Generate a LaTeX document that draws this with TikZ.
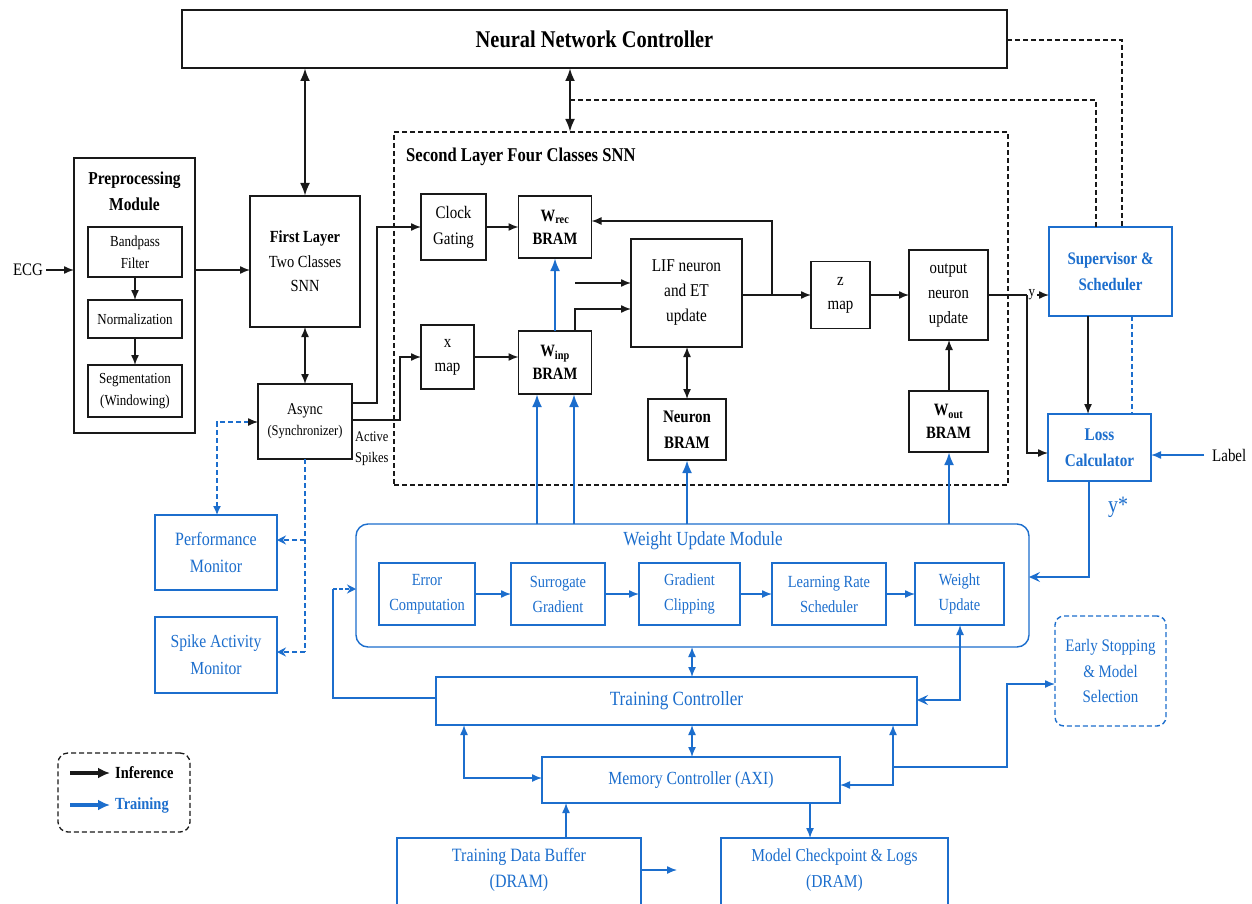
\documentclass[tikz,border=0pt]{standalone}
\usepackage{fontspec}
\setmainfont{Liberation Serif}[FakeStretch=0.85]
\usetikzlibrary{arrows.meta,calc}
\definecolor{tblue}{RGB}{28,110,205}
\definecolor{tblack}{RGB}{25,25,25}
\begin{document}
\begin{tikzpicture}[x=1pt,y=-1pt,
 box/.style={draw=tblack,line width=1.4pt,inner sep=0pt,outer sep=0pt,align=center,text=black},
 bbox/.style={draw=tblue,line width=1.4pt,inner sep=0pt,outer sep=0pt,align=center,text=tblue},
 arr/.style={-{Latex[length=10pt,width=8pt]},line width=1.4pt,draw=tblack},
 darr/.style={{Latex[length=10pt,width=8pt]}-{Latex[length=10pt,width=8pt]},line width=1.4pt,draw=tblack},
 thk/.style={{Latex[length=13pt,width=10pt]}-{Latex[length=13pt,width=10pt]},line width=2.6pt,draw=tblack},
 barr/.style={-{Latex[length=10pt,width=8pt]},line width=1.4pt,draw=tblue},
 bdarr/.style={{Latex[length=10pt,width=8pt]}-{Latex[length=10pt,width=8pt]},line width=1.4pt,draw=tblue},
 bthk/.style={-{Latex[length=13pt,width=10pt]},line width=2.6pt,draw=tblue},
 bst/.style={-{Stealth[length=11pt,width=10pt,inset=4pt]},line width=1.4pt,draw=tblue},
 dsh/.style={dash pattern=on 5pt off 3pt},
 sub/.style={font=\fontsize{15.3}{22}\selectfont},
]
\useasboundingbox (0,0) rectangle (1252,904);
\fill[white] (0,0) rectangle (1252,904);

% ---------- top controller ----------
\node[box,line width=1.8pt,minimum width=825pt,minimum height=58pt,font=\fontsize{24}{26}\selectfont\bfseries] (nnc) at (594.5,39) {Neural Network Controller};

% ---------- preprocessing ----------
\node[box,line width=1.8pt,minimum width=121pt,minimum height=275pt] (pre) at (134.5,295.5) {};
\node[align=center,font=\fontsize{18.2}{26}\selectfont\bfseries] (pretitle) at (134.5,191) {Preprocessing\\Module};
\node[box,sub,minimum width=94pt,minimum height=50pt] (band) at (135,252) {Bandpass\\Filter};
\node[box,sub,minimum width=94pt,minimum height=38pt] (norm) at (135,319) {Normalization};
\node[box,sub,minimum width=94pt,minimum height=52pt] (seg) at (135,391) {Segmentation\\(Windowing)};
\draw[arr] (band) -- (norm);
\draw[arr] (norm) -- (seg);
\node[font=\fontsize{17.6}{20}\selectfont] (ecg) at (28,270) {ECG};
\draw[arr] (ecg.east) -- (pre.west |- ecg.east);

% ---------- first layer / async ----------
\node[box,line width=1.8pt,font=\fontsize{17}{24.5}\selectfont,minimum width=110pt,minimum height=131pt] (fl) at (305,261.5) {\textbf{First Layer}\\Two Classes\\SNN};
\node[box,minimum width=94pt,minimum height=75pt,font=\fontsize{16.5}{21}\selectfont] (async) at (305,421.5) {Async\\{\fontsize{14.7}{18}\selectfont(Synchronizer)}};
\draw[arr] (pre.east |- ecg.east) -- (fl.west |- ecg.east);
\draw[thk] (nnc.south -| fl.north) -- (fl.north);
\draw[darr] (fl.south -| async.north) -- (async.north);
\node[align=left,anchor=west,inner sep=0pt,font=\fontsize{14.7}{21}\selectfont] (act) at (355,449) {Active\\Spikes};

% ---------- second layer ----------
\node[draw=tblack,line width=1.3pt,dsh,inner sep=0pt,outer sep=0pt,minimum width=614pt,minimum height=353pt] (sl) at (701,308.5) {};
\node[anchor=west,inner sep=0pt,font=\fontsize{19.5}{22}\selectfont\bfseries] (sltitle) at (406,157) {Second Layer Four Classes SNN};
\coordinate (c570) at (570,0);
\draw[thk] (nnc.south -| c570) -- (sl.north -| c570);

\node[box,minimum width=65pt,minimum height=66pt,font=\fontsize{17.6}{26}\selectfont] (clock) at (453.5,227) {Clock\\Gating};
\node[box,minimum width=73pt,minimum height=62pt,font=\fontsize{17.3}{23}\selectfont\bfseries] (wrec) at (555,227) {W\textsubscript{rec}\\BRAM};
\node[box,minimum width=53pt,minimum height=64pt,font=\fontsize{17.6}{24}\selectfont] (xmap) at (447.5,357) {x\\map};
\node[box,minimum width=73pt,minimum height=63pt,font=\fontsize{17.3}{23}\selectfont\bfseries] (winp) at (555,362.5) {W\textsubscript{inp}\\BRAM};
\node[box,minimum width=111pt,minimum height=108pt,font=\fontsize{18}{25}\selectfont] (lif) at (686.5,293) {LIF neuron\\and ET\\update};
\node[box,minimum width=78pt,minimum height=61pt,font=\fontsize{17.6}{26}\selectfont\bfseries] (nbram) at (687,429.5) {Neuron\\BRAM};
\node[box,minimum width=59pt,minimum height=67pt,font=\fontsize{17.6}{24}\selectfont] (zmap) at (840.5,295) {z\\map};
\node[box,minimum width=79pt,minimum height=90pt,font=\fontsize{17.3}{25}\selectfont] (outn) at (948.5,295) {output\\neuron\\update};
\node[box,minimum width=79pt,minimum height=61pt,font=\fontsize{17.3}{23}\selectfont\bfseries] (wout) at (948.5,421.5) {W\textsubscript{out}\\BRAM};

\draw[arr] (async.east |- 0,403) -- (377,403) |- (clock.west);
\draw[arr] (async.east |- 0,420) -- (400,420) |- (xmap.west);
\draw[arr] (clock.east) -- (wrec.west);
\draw[arr] (xmap.east) -- (winp.west |- xmap.east);
\coordinate (fin) at (575,283);
\draw[arr] (fin) -- (lif.west |- fin);
\draw[arr] (winp.north -| 575,0) |- (lif.west |- 0,309);
\draw[arr] (lif.east |- zmap.west) -- (zmap.west);
\draw[arr] (772,295) |- (wrec.east |- 0,221);
\draw[darr] (lif.south -| nbram.north) -- (nbram.north);
\draw[arr] (zmap.east) -- (outn.west);
\draw[arr] (wout.north -| 949,0) -- (outn.south -| 949,0);

% ---------- supervisor / loss ----------
\node[bbox,minimum width=123pt,minimum height=89pt,font=\fontsize{17.6}{26}\selectfont\bfseries] (sup) at (1110.5,271.5) {Supervisor \&\\Scheduler};
\node[bbox,minimum width=103pt,minimum height=67pt,font=\fontsize{17.9}{26}\selectfont\bfseries] (loss) at (1099.5,447.5) {Loss\\Calculator};
\draw[arr] (outn.east) -- (sup.west |- outn.east) node[pos=0.72,fill=white,inner sep=1.5pt,font=\fontsize{15.3}{17}\selectfont] {y};
\draw[arr] (1027,295) |- (loss.west |- 0,453);
\draw[arr] (sup.south -| 1088,0) -- (loss.north -| 1088,0);
\draw[tblue,dsh,line width=1.3pt] (sup.south -| 1132,0) -- (loss.north -| 1132,0);
\draw[dsh,line width=1.2pt,draw=tblack] (nnc.east |- 0,40) -| (sup.north -| 1122,0);
\draw[dsh,line width=1.2pt,draw=tblack] (c570 |- 0,100) -| (sup.north -| 1096,0);
\node[anchor=west,inner sep=0pt,font=\fontsize{17.6}{20}\selectfont] (lab) at (1212,455) {Label};
\draw[barr] ([xshift=-8pt]lab.west) -- (loss.east |- lab.west);
\node[text=tblue,font=\fontsize{23.5}{26}\selectfont] (ystar) at (1118,507) {y*};

% ---------- weight update module ----------
\node[draw=tblue,line width=1.4pt,rounded corners=12pt,inner sep=0pt,outer sep=0pt,minimum width=673pt,minimum height=123pt] (wum) at (692.5,585.5) {};
\node[text=tblue,font=\fontsize{20}{22}\selectfont] (wumt) at (703,541) {Weight Update Module};
\tikzset{wsub/.style={bbox,minimum height=62pt,font=\fontsize{17}{25}\selectfont}}
\node[wsub,minimum width=96pt] (err) at (427,594) {Error\\Computation};
\node[wsub,minimum width=94pt] (surr) at (558,594) {Surrogate\\Gradient};
\node[wsub,minimum width=101pt] (clip) at (689.5,594) {Gradient\\Clipping};
\node[wsub,minimum width=114pt] (lrs) at (829,594) {Learning Rate\\Scheduler};
\node[wsub,minimum width=89pt] (wu) at (959.5,594) {Weight\\Update};
\draw[barr] (err) -- (surr);
\draw[barr] (surr) -- (clip);
\draw[barr] (clip) -- (lrs);
\draw[barr] (lrs) -- (wu);

\draw[bthk] (wum.north -| 537,0) -- (winp.south -| 537,0);
\draw[bthk] (wum.north -| 574,0) -- (winp.south -| 574,0);
\draw[bthk] (wum.north -| nbram.south) -- (nbram.south);
\draw[bthk] (wum.north -| 949,0) -- (wout.south -| 949,0);
\draw[bthk] (winp.north -| wrec.south) -- (wrec.south);
\draw[bst] (loss.south -| 1089,0) |- (wum.east |- 0,577);

% ---------- monitors ----------
\node[bbox,minimum width=122pt,minimum height=75pt,font=\fontsize{18.8}{27}\selectfont] (perf) at (216,552.5) {Performance\\Monitor};
\node[bbox,minimum width=122pt,minimum height=76pt,font=\fontsize{18.4}{27}\selectfont] (spk) at (216,655) {Spike Activity\\Monitor};
\draw[tblue,dsh,line width=1.3pt] (async.south) -- (305,652);
\draw[tblue,dsh,line width=1.3pt,-{Stealth[length=9pt,width=9pt,inset=3pt]}] (305,652) -- (spk.east |- 0,652);
\draw[tblue,dsh,line width=1.3pt,-{Stealth[length=9pt,width=9pt,inset=3pt]}] (305,540) -- (perf.east |- 0,540);
\draw[tblue,dsh,line width=1.3pt,{Latex[length=9pt,width=8pt]}-{Latex[length=10pt,width=8pt,color=tblack]}] (perf.north -| 217,0) |- (async.west |- 0,422);

% ---------- training controller / memory ----------
\node[bbox,minimum width=481pt,minimum height=48pt,font=\fontsize{20.2}{22}\selectfont] (tc) at (676.5,701) {Training Controller};
\node[bbox,minimum width=298pt,minimum height=46pt,font=\fontsize{18.5}{20}\selectfont] (mc) at (691,780) {Memory Controller (AXI)};
\node[bbox,minimum width=244pt,minimum height=76pt] (tdb) at (519,876) {};
\node[text=tblue,align=center,font=\fontsize{18.8}{26}\selectfont] (tdbt) at (519,870) {Training Data Buffer\\(DRAM)};
\node[bbox,minimum width=227pt,minimum height=76pt] (mcl) at (834.5,876) {};
\node[text=tblue,align=center,font=\fontsize{18.2}{26}\selectfont] (mclt) at (834.5,870) {Model Checkpoint \& Logs\\(DRAM)};
\node[draw=tblue,line width=1.4pt,dsh,rounded corners=9pt,inner sep=0pt,outer sep=0pt,minimum width=111pt,minimum height=110pt,align=center,text=tblue,font=\fontsize{17.6}{25.5}\selectfont] (es) at (1110.5,671) {Early Stopping\\\& Model\\Selection};

\draw[bdarr] (wum.south -| 692,0) -- (tc.north -| 692,0);
\draw[bdarr] (tc.south -| 692,0) -- (mc.north -| 692,0);
\draw[tblue,line width=1.4pt,{Latex[length=10pt,width=8pt]}-{Stealth[length=11pt,width=10pt,inset=4pt]}] (wu.south -| 960,0) |- (tc.east |- 0,700);
\coordinate (lp) at (333,589);
\draw[tblue,line width=1.4pt] (tc.west |- 0,698) -| (lp);
\draw[tblue,line width=1.4pt,dash pattern=on 4pt off 2pt,-{Stealth[length=9pt,width=9pt,inset=3pt]}] (lp) -- (wum.west |- lp);
\draw[bdarr] (tc.south -| 464,0) |- (mc.west |- 0,778);
\draw[bdarr] (tc.south -| 893,0) |- (mc.east |- 0,785);
\draw[barr] (893,767) -- (1007,767) -- (1007,684) -- (es.west |- 0,684);
\draw[barr] (tdb.north -| 566,0) -- (mc.south -| 566,0);
\coordinate (tdbend) at (677,870);
\draw[barr] (tdb.east |- tdbend) -- (tdbend);
\draw[barr] (mc.south -| 810,0) -- (mcl.north -| 810,0);

% ---------- legend ----------
\node[draw=tblack,line width=1.3pt,dsh,rounded corners=10pt,inner sep=0pt,minimum width=132pt,minimum height=79pt] (leg) at (124,792.5) {};
\coordinate (l1a) at (70,773);
\coordinate (l1b) at (110,773);
\coordinate (l2a) at (70,805);
\coordinate (l2b) at (110,805);
\draw[-{Latex[length=12pt,width=11pt]},line width=3.2pt,draw=tblack] (l1a) -- (l1b);
\draw[-{Latex[length=12pt,width=11pt]},line width=3.2pt,draw=tblue] (l2a) -- (l2b);
\node[anchor=west,inner sep=0pt,font=\fontsize{17}{19}\selectfont\bfseries] (linf) at (115,773) {Inference};
\node[anchor=west,inner sep=0pt,text=tblue,font=\fontsize{17}{19}\selectfont\bfseries] (ltr) at (115,805) {Training};
\end{tikzpicture}
\end{document}
